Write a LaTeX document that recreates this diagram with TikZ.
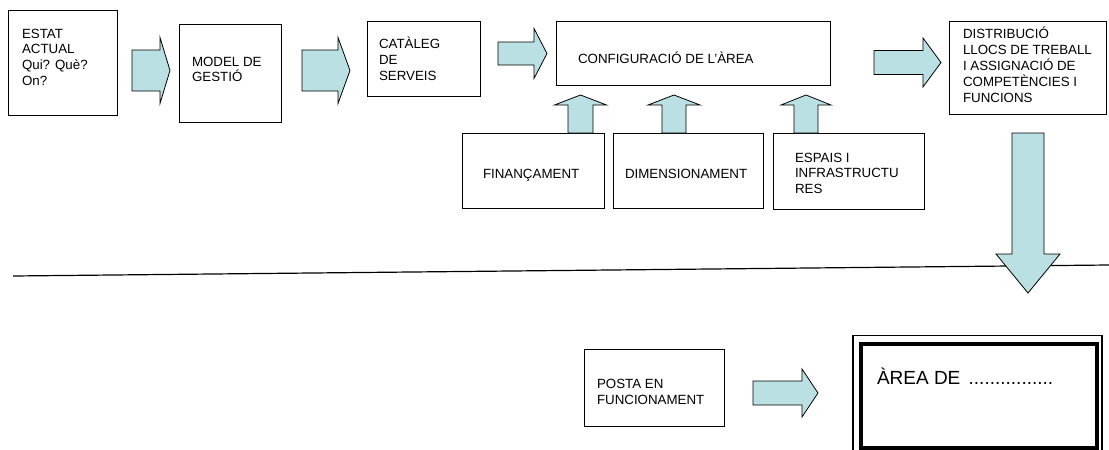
\documentclass[tikz,border=0pt]{standalone}
\usepackage{fontspec}
\setmainfont{Liberation Sans}
\definecolor{arrowfill}{RGB}{187,224,227}
\tikzset{
  box/.style={draw=black, line width=1pt, inner sep=0pt, outer sep=0pt, anchor=north west},
  txt/.style={inner sep=0pt, outer sep=0pt, align=left},
  blockarrow/.style={draw=black, line width=0.8pt, fill=arrowfill, line join=miter},
}
% right arrow: x0, xneck, xtip, yc, shaft half, head half
\newcommand\rarrowshape[6]{%
  \draw[blockarrow] (#1,#4-#5) -- (#2,#4-#5) -- (#2,#4-#6) -- (#3,#4) -- (#2,#4+#6) -- (#2,#4+#5) -- (#1,#4+#5) -- cycle;}
% vertical arrow: xc, ybase, yneck, ytip, shaft half, head half
\newcommand\varrowshape[6]{%
  \draw[blockarrow] (#1-#5,#2) -- (#1-#5,#3) -- (#1-#6,#3) -- (#1,#4) -- (#1+#6,#3) -- (#1+#5,#3) -- (#1+#5,#2) -- cycle;}
% multi-line text: name, x, first baseline, baselineskip, text
\newcommand\mltext[5]{%
  \node[txt, anchor=north west, font=\fontsize{13.33}{#4}\selectfont] (#1) at (#2,#3-14) {\rule{0pt}{14pt}#5};}
\begin{document}
\begin{tikzpicture}[x=1pt,y=-1pt]
\useasboundingbox (0,0) rectangle (1109,450);

% boxes
\node[box, minimum width=109, minimum height=105] (estat) at (8,10) {};
\node[box, minimum width=102, minimum height=98] (model) at (179,24) {};
\node[box, minimum width=113, minimum height=75] (cataleg) at (367,21) {};
\node[box, minimum width=274, minimum height=64] (config) at (556,21) {};
\node[box, minimum width=142, minimum height=75] (financ) at (462,133) {};
\node[box, minimum width=150, minimum height=75] (dimens) at (613,133) {};
\node[box, minimum width=151, minimum height=76] (espais) at (773,133) {};
\node[box, minimum width=157, minimum height=93] (distrib) at (949,21) {};
\node[box, minimum width=140, minimum height=77] (posta) at (584,349) {};

% double (thin-thick) frame of the final area
\draw[line width=1.8pt] (853,335.5) rectangle (1102,458);
\node[box, line width=4.5pt, minimum width=236.2, minimum height=104] (area) at (860.8,344) {};

% texts
\mltext{estatT}{22}{38}{15.7}{ESTAT\\ACTUAL\\Qui? Què?\\On?}
\mltext{modelT}{192}{66}{15.5}{MODEL DE\\GESTIÓ}
\mltext{catalegT}{379}{48}{16.3}{CATÀLEG\\DE\\SERVEIS}
\node[txt, anchor=base west, font=\fontsize{13.33}{15.6}\selectfont] (configT) at (578,63) {CONFIGURACIÓ DE L’ÀREA};
\node[txt, anchor=base west, font=\fontsize{13.33}{15.6}\selectfont] (financT) at (483,178) {FINANÇAMENT};
\node[txt, anchor=base west, font=\fontsize{13.33}{15.6}\selectfont] (dimensT) at (625,178) {DIMENSIONAMENT};
\mltext{espaisT}{795}{162}{15.5}{ESPAIS I\\INFRASTRUCTU\\RES}
\mltext{distribT}{963}{38}{16.2}{DISTRIBUCIÓ\\LLOCS DE TREBALL\\I ASSIGNACIÓ DE\\COMPETÈNCIES I\\FUNCIONS}
\mltext{postaT}{597}{388}{16.5}{POSTA EN\\FUNCIONAMENT}
\node[txt, anchor=base west, font=\fontsize{19}{22}\selectfont] (areaT) at (877,384) {ÀREA DE\hspace{3pt} ................};

% separating line
\coordinate (lineL) at (13,276);
\coordinate (lineR) at (1109,265);
\draw[line width=1.2pt] (lineL) -- (lineR);

% block arrows
\rarrowshape{132}{160}{170}{70.5}{20.5}{33}
\rarrowshape{302}{338}{350}{70.5}{20.5}{33}
\rarrowshape{498}{534}{547}{53.5}{11.5}{25}
\rarrowshape{874}{923}{941}{62.5}{12}{24.5}
\rarrowshape{753}{802}{818}{393}{12}{24}
\varrowshape{580.5}{133}{105}{95}{12.5}{26}
\varrowshape{674}{133}{105}{95}{12}{26}
\varrowshape{806}{133}{105}{95}{12}{25}
\varrowshape{1028}{133}{254}{293}{16}{32}
\end{tikzpicture}
\end{document}
